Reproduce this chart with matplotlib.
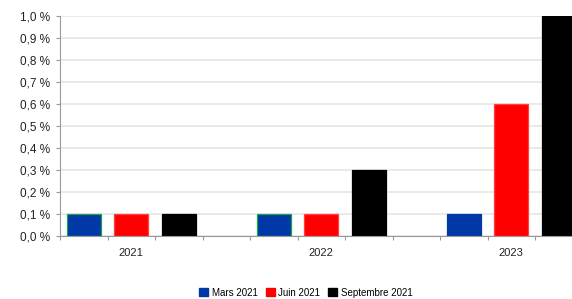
import numpy as np
import matplotlib.pyplot as plt
from matplotlib.patches import Patch

plt.rcParams['font.family'] = ['Liberation Sans', 'DejaVu Sans']

# data
years = ['2021', '2022', '2023']
series = ['Mars 2021', 'Juin 2021', 'Septembre 2021']
mars = [0.1, 0.1, 0.1]
juin = [0.1, 0.1, 0.6]
septembre = [0.1, 0.3, 1.0]
colors = ['#0038A8', '#FF0000', '#000000']
edges = [['#1FA04A', '#1FA04A', '#0038A8'], ['#FF4040'] * 3, ['#000000'] * 3]

fig = plt.figure(figsize=(5.72, 2.99), dpi=100)
ax = fig.add_axes([60 / 572, 1 - 236 / 299, 1 - 60 / 572, 220 / 299])

# 4 slots per year: 3 bars + one empty slot
for s, vals in enumerate([mars, juin, septembre]):
    x = np.arange(len(years)) * 4 + s + 0.5
    ax.bar(x, vals, width=0.72, color=colors[s], edgecolor=edges[s], linewidth=0.9, zorder=3)

ax.set_xlim(0, 512 / 47.5)
ax.set_ylim(0, 1.0)
ax.set_yticks(np.arange(0, 1.01, 0.1))
ax.yaxis.set_major_formatter(plt.FuncFormatter(lambda v, p: ('%.1f %%' % v).replace('.', ',')))
ax.grid(axis='y', color='#E6E6E6', linewidth=1.2, zorder=0)

# ticks between slots, labels on middle bar of each year
ax.set_xticks(np.arange(0, 11))
ax.set_xticklabels([])
ax.set_xticks(np.arange(len(years)) * 4 + 1.5, minor=True)
ax.set_xticklabels(years, minor=True)
ax.tick_params(axis='x', which='major', length=3, color='#999999', direction='out')
ax.tick_params(axis='x', which='minor', length=0, labelsize=8, pad=9, labelcolor='#222222')
ax.tick_params(axis='y', length=3, color='#999999', labelsize=8.5, labelcolor='#222222', pad=4)

for side in ['top', 'right']:
    ax.spines[side].set_visible(False)
ax.spines['left'].set_color('#999999')
ax.spines['bottom'].set_color('#999999')
ax.spines['bottom'].set_zorder(4)

handles = [Patch(facecolor=c, edgecolor=c) for c in colors]
fig.legend(handles, series, loc='lower center', bbox_to_anchor=(0.535, -0.025), ncol=3,
           frameon=False, fontsize=7, handlelength=0.9, handleheight=0.9,
           handletextpad=0.4, columnspacing=0.8)

fig.savefig('out.png', dpi=100)
